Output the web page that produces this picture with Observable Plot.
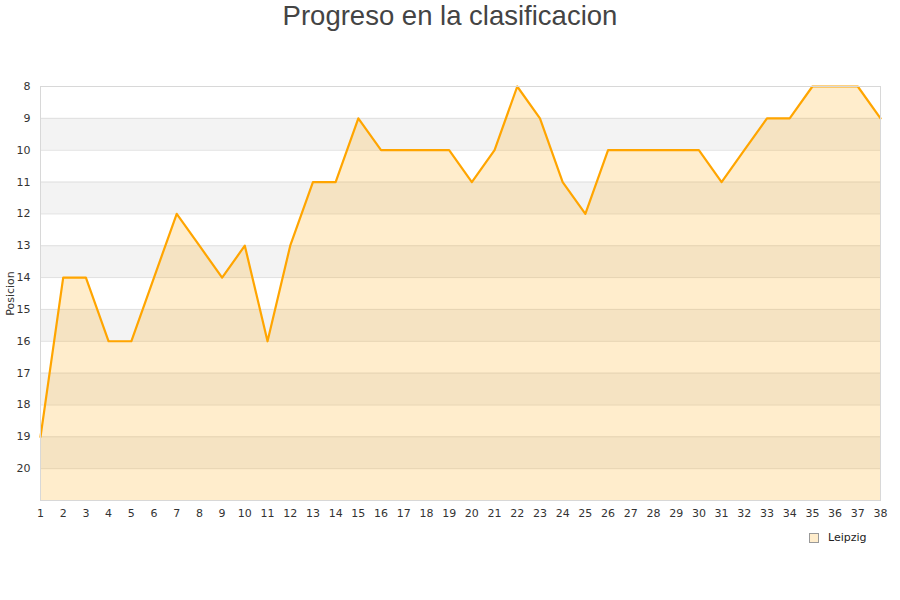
<!DOCTYPE html>
<html>
<head>
<meta charset="utf-8">
<script src="https://cdn.jsdelivr.net/npm/d3@7"></script>
<script src="https://cdn.jsdelivr.net/npm/@observablehq/plot@0.6"></script>
<style>
  html, body { margin: 0; padding: 0; background: #fff; }
  #wrap { position: relative; width: 900px; height: 600px; }
  #title { height: 40px; line-height: 31px; text-align: center; font-family: "Liberation Sans", Arial, sans-serif; font-size: 27.5px; color: #444; }
  #legend { position: absolute; left: 809px; top: 531px; font-family: "DejaVu Sans", sans-serif; font-size: 11px; color: #222; display: flex; align-items: center; }
  #legend .sw { width: 8px; height: 8px; background: #ffedcc; border: 1px solid #999; margin-right: 9px; }
</style>
</head>
<body>
<div id="wrap">
  <div id="title">Progreso en la clasificacion</div>
  <div id="chart"></div>
  <div id="legend"><span class="sw"></span><span>Leipzig</span></div>
</div>
<script>
const team = "Leipzig";
const jornadas = [1,2,3,4,5,6,7,8,9,10,11,12,13,14,15,16,17,18,19,20,21,22,23,24,25,26,27,28,29,30,31,32,33,34,35,36,37,38];
const posiciones = [19,14,14,16,16,14,12,13,14,13,16,13,11,11,9,10,10,10,10,11,10,8,9,11,12,10,10,10,10,10,11,10,9,9,8,8,8,9];
const yTicks = [8,9,10,11,12,13,14,15,16,17,18,19,20];
const yDomain = [8, 21];
const bandStarts = [9,11,13,15,17,19];
const gridLines = [8,9,10,11,12,13,14,15,16,17,18,19,20,21];

const data = jornadas.map((j, i) => ({jornada: j, pos: posiciones[i]}));
const xMin = d3.min(jornadas), xMax = d3.max(jornadas);

const chart = Plot.plot({
  width: 900,
  height: 560,
  marginTop: 46,
  marginBottom: 100,
  marginLeft: 40,
  marginRight: 20,
  style: {fontFamily: "DejaVu Sans, sans-serif", fontSize: "11px", color: "#333", background: "transparent"},
  x: {domain: [xMin, xMax], ticks: jornadas, tickSize: 0, tickPadding: 9, tickFormat: d => String(d), label: null},
  y: {domain: yDomain, reverse: true, ticks: yTicks, tickSize: 0, tickPadding: 10, tickFormat: d => String(d), label: "Posicion", labelAnchor: "center", labelArrow: "none", labelOffset: 34},
  marks: [
    Plot.rect(bandStarts, {x1: () => xMin, x2: () => xMax, y1: d => d, y2: d => d + 1, fill: "#f3f3f3"}),
    Plot.ruleY(gridLines, {stroke: "#e0e0e0", strokeWidth: 1}),
    Plot.areaY(data, {x: "jornada", y1: () => yDomain[1], y2: "pos", fill: "#ffa500", fillOpacity: 0.2}),
    Plot.line(data, {x: "jornada", y: "pos", stroke: "#ffa500", strokeWidth: 2.2}),
    Plot.frame({stroke: "#d8d8d8"})
  ]
});
document.getElementById("chart").appendChild(chart);
</script>
</body>
</html>
